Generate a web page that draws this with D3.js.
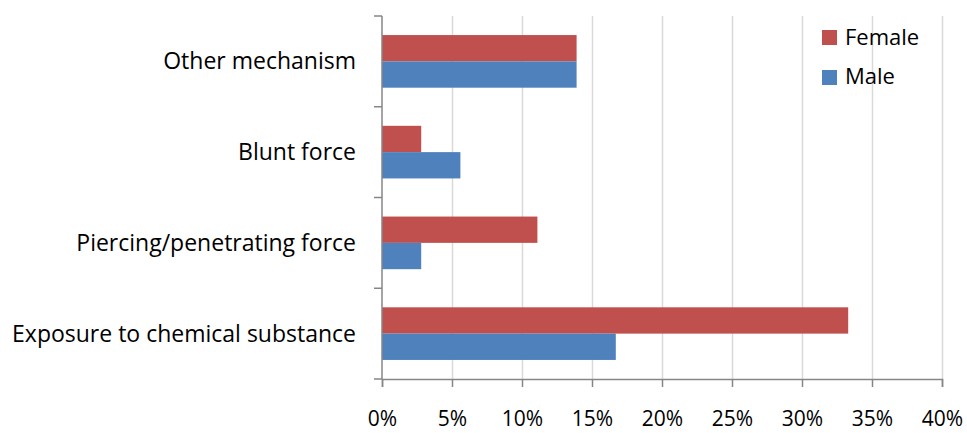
<!DOCTYPE html>
<html>
<head>
<meta charset="utf-8">
<script src="https://cdn.jsdelivr.net/npm/d3@7"></script>
<style>
  body { margin: 0; background: #fff; }
  text { font-family: "Open Sans", sans-serif; fill: #000; }
</style>
</head>
<body>
<div id="chart"></div>
<script>
// categories top to bottom
let categories = ["Other mechanism", "Blunt force", "Piercing/penetrating force", "Exposure to chemical substance"];
let female = [13.9, 2.8, 11.1, 33.3];
let male = [13.9, 5.6, 2.8, 16.7];
let xTicks = [0, 5, 10, 15, 20, 25, 30, 35, 40];
let seriesNames = ["Female", "Male"];

let m = {top: 16, right: 25, bottom: 54, left: 382};
let W = 967, H = 433;
let w = W - m.left - m.right;
let h = H - m.top - m.bottom;

let svg = d3.select("#chart").append("svg")
    .attr("width", W)
    .attr("height", H);

let g = svg.append("g").attr("transform", "translate(" + m.left + "," + m.top + ")");

let x = d3.scaleLinear().domain([0, 40]).range([0, w]);
let y = d3.scaleBand().domain(categories).range([0, h]).paddingInner(0.42).paddingOuter(0.21);
let inner = d3.scaleBand().domain(seriesNames).range([0, y.bandwidth()]);
let colors = {Female: "#c0504d", Male: "#4f81bd"};

// gridlines
g.selectAll(".grid")
    .data(xTicks.slice(1))
    .enter()
    .append("line")
    .attr("x1", d => x(d) + 0.5)
    .attr("x2", d => x(d) + 0.5)
    .attr("y1", 0)
    .attr("y2", h)
    .attr("stroke", "#d9d9d9")
    .attr("stroke-width", 1.5);

// bars
let rows = [];
categories.forEach((c, i) => {
    rows.push({cat: c, s: "Female", v: female[i]});
    rows.push({cat: c, s: "Male", v: male[i]});
});

g.selectAll(".bar")
    .data(rows)
    .enter()
    .append("rect")
    .attr("x", x(0))
    .attr("y", d => y(d.cat) + inner(d.s))
    .attr("width", d => x(d.v) - x(0))
    .attr("height", inner.bandwidth())
    .attr("fill", d => colors[d.s]);

// x axis
let xAxis = d3.axisBottom(x)
    .tickValues(xTicks)
    .tickSize(8)
    .tickFormat(d => d + "%");

let xg = g.append("g")
    .attr("transform", "translate(0," + h + ")")
    .call(xAxis);
xg.select(".domain").attr("stroke", "#868686").attr("stroke-width", 1.5);
xg.selectAll(".tick line").attr("stroke", "#868686").attr("stroke-width", 1.5);
xg.selectAll(".tick text")
    .attr("y", 47)
    .attr("dy", 0)
    .style("font-size", "21px");

// y axis with ticks at band boundaries
g.append("line")
    .attr("x1", 0).attr("x2", 0)
    .attr("y1", 0).attr("y2", h)
    .attr("stroke", "#868686").attr("stroke-width", 1.5);

let bounds = d3.range(categories.length + 1).map(i => i * h / categories.length);
g.selectAll(".ytick")
    .data(bounds)
    .enter()
    .append("line")
    .attr("x1", -8).attr("x2", 0)
    .attr("y1", d => d).attr("y2", d => d)
    .attr("stroke", "#868686").attr("stroke-width", 1.5);

g.selectAll(".ylabel")
    .data(categories)
    .enter()
    .append("text")
    .attr("x", -26)
    .attr("y", d => y(d) + y.bandwidth() / 2 + 8)
    .attr("text-anchor", "end")
    .style("font-size", "23px")
    .text(d => d);

// legend
let legend = svg.append("g").attr("transform", "translate(822,30)");
legend.selectAll("rect")
    .data(seriesNames)
    .enter()
    .append("rect")
    .attr("x", 0)
    .attr("y", (d, i) => i * 40)
    .attr("width", 15)
    .attr("height", 15)
    .attr("fill", d => colors[d]);
legend.selectAll("text")
    .data(seriesNames)
    .enter()
    .append("text")
    .attr("x", 23)
    .attr("y", (d, i) => i * 39 + 15)
    .style("font-size", "22px")
    .text(d => d);
</script>
</body>
</html>
